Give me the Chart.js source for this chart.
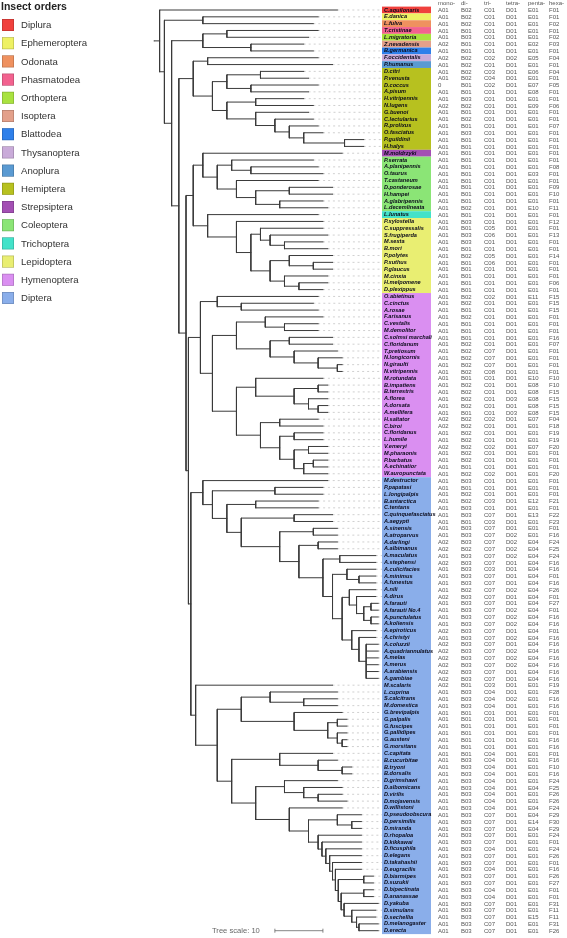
<!DOCTYPE html>
<html>
<head>
<meta charset="utf-8">
<script src="https://cdn.jsdelivr.net/npm/chart.js@4"></script>
<style>
  html, body { margin: 0; padding: 0; background: #fff; }
  #wrap { width: 567px; height: 938px; position: relative; }
</style>
</head>
<body>
<div id="wrap"><canvas id="tree" width="567" height="938"></canvas></div>
<script>
// leaf order, top to bottom
const species = [
  'C.aquilonaris','E.danica','L.fulva','T.cristinae','L.migratoria','Z.nevadensis','B.germanica',
  'F.occidentalis','P.humanus','D.citri','P.venusta','D.coccus','A.pisum','H.vitripennis','N.lugens',
  'G.buenoi','C.lectularius','R.prolixus','O.fasciatus','P.guildinii','H.halys','M.moldrzyki',
  'P.serrata','A.planipennis','O.taurus','T.castaneum','D.ponderosae','H.hampei','A.glabripennis',
  'L.decemlineata','L.lunatus','P.xylostella','C.suppressalis','S.frugiperda','M.sexta','B.mori',
  'P.polytes','P.xuthus','P.glaucus','M.cinxia','H.melpomene','D.plexippus','O.abietinus','C.cinctus',
  'A.rosae','F.arisanus','C.vestalis','M.demolitor','C.solmsi marchali','C.floridanum','T.pretiosum',
  'N.longicornis','N.giraulti','N.vitripennis','M.rotundata','B.impatiens','B.terrestris','A.florea',
  'A.dorsata','A.mellifera','H.saltator','C.biroi','C.floridanus','L.humile','V.emeryi','M.pharaonis',
  'P.barbatus','A.echinatior','W.auropunctata','M.destructor','P.papatasi','L.longipalpis',
  'B.antarctica','C.tentans','C.quinquefasciatus','A.aegypti','A.sinensis','A.atroparvus','A.darlingi',
  'A.albimanus','A.maculatus','A.stephensi','A.culicifacies','A.minimus','A.funestus','A.nili','A.dirus',
  'A.farauti','A.farauti No.4','A.punctulatus','A.koliensis','A.epiroticus','A.christyi','A.coluzzii',
  'A.quadriannulatus','A.melas','A.merus','A.arabiensis','A.gambiae','M.scalaris','L.cuprina',
  'S.calcitrans','M.domestica','G.brevipalpis','G.palpalis','G.fuscipes','G.pallidipes','G.austeni',
  'G.morsitans','C.capitata','B.cucurbitae','B.tryoni','B.dorsalis','D.grimshawi','D.albomicans',
  'D.virilis','D.mojavensis','D.willistoni','D.pseudoobscura','D.persimilis','D.miranda','D.rhopaloa',
  'D.kikkawai','D.ficusphila','D.elegans','D.takahashii','D.eugracilis','D.biarmipes','D.suzukii',
  'D.bipectinata','D.ananassae','D.yakuba','D.simulans','D.sechellia','D.melanogaster','D.erecta'
];

const orderNames = ['Diplura','Ephemeroptera','Odonata','Phasmatodea','Orthoptera','Isoptera','Blattodea',
  'Thysanoptera','Anoplura','Hemiptera','Strepsiptera','Coleoptera','Trichoptera','Lepidoptera',
  'Hymenoptera','Diptera'];
const orderColors = ['#f0413d','#eef163','#ef915f','#f2628f','#a9e23f','#e3a08a','#2f80ea','#c9abd9',
  '#5a9ad2','#b7c11f','#a34fb3','#8be576','#43e2c9','#e9ee72','#da8ff1','#8aaeea'];
// number of consecutive rows in each order
const orderCounts = [1,1,1,1,1,1,1,1,1,12,1,8,1,11,27,67];

const columnHeads = ['mono-','di-','tri-','tetra-','penta-','hexa-'];
const columnPrefix = ['A','B','C','D','E','F'];
const mono = [1,1,1,1,1,2,1,2,1,1,1,0,1,1,2,1,1,1,1,1,1,1,1,1,1,1,1,1,1,1,1,1,1,1,1,1,1,1,1,1,1,1,
  1,1,1,1,1,1,1,1,1,1,1,1,1,1,1,1,1,1,2,2,1,1,2,1,1,1,1,1,1,1,1,1,1,1,1,1,2,2,1,2,1,1,1,1,2,1,1,1,1,
  2,1,2,2,2,2,2,2,2,1,1,1,1,1,1,1,1,1,1,1,1,1,1,1,1,1,1,1,1,1,1,1,1,1,1,1,1,1,1,1,1,1,1,1,1];
const di = [2,2,2,1,3,1,1,2,2,2,2,1,1,3,2,1,2,1,3,1,1,1,1,1,1,1,1,1,1,2,1,3,1,3,3,1,2,1,1,1,1,1,
  2,2,1,2,1,1,1,2,2,2,2,2,1,2,2,2,2,1,2,2,2,2,2,2,2,1,2,3,1,2,2,3,3,1,3,3,3,2,3,3,3,3,3,2,3,3,3,3,3,
  3,3,3,3,3,3,3,3,1,3,3,3,1,1,1,1,1,1,1,3,3,3,3,3,3,3,3,3,3,3,3,3,3,3,3,3,3,3,3,3,3,3,3,3,3];
const tri = [1,1,1,1,1,1,1,2,1,3,4,2,1,1,1,1,1,1,1,1,1,1,1,1,1,1,1,1,1,1,1,1,5,6,1,1,5,6,1,1,1,1,
  2,1,1,1,1,1,1,1,7,7,7,8,1,1,1,1,1,1,2,1,1,1,2,1,1,1,2,1,1,1,3,1,7,3,7,7,7,7,7,7,3,7,7,7,7,7,7,7,7,
  7,7,7,7,7,7,7,7,3,4,4,4,1,1,1,1,1,1,4,4,4,4,4,4,4,4,4,7,7,7,7,7,4,7,7,4,7,7,4,4,7,7,7,7,7];
const tetra = [1,1,1,1,1,1,1,2,1,1,1,1,1,1,1,1,1,1,1,1,1,1,1,1,1,1,1,1,1,1,1,1,1,1,1,1,1,1,1,1,1,1,
  1,1,1,1,1,1,1,1,1,1,1,1,1,1,1,3,1,3,1,1,1,1,1,1,1,1,1,1,1,1,1,1,1,1,1,2,2,2,2,1,1,1,1,2,1,1,2,2,2,
  1,2,1,2,2,2,1,1,1,1,2,1,1,1,1,1,1,1,1,1,1,1,1,1,1,1,1,1,1,1,1,1,1,1,1,1,1,1,1,1,1,1,1,1,1];
const penta = [1,1,1,1,1,2,1,5,1,6,1,7,8,1,9,1,1,1,1,1,1,1,1,1,3,1,1,1,1,10,1,1,1,1,1,1,1,1,1,1,1,1,
  11,1,1,1,1,1,1,1,1,1,1,1,10,8,8,8,8,8,7,1,1,1,7,1,1,1,1,1,1,1,12,1,13,1,1,1,4,4,4,4,4,4,4,4,4,4,4,
  4,4,4,4,4,4,4,4,4,4,1,1,1,1,1,1,1,1,1,1,1,1,1,1,1,4,1,1,4,4,14,4,1,1,1,1,1,1,1,1,1,1,1,1,15,1,1];
const hexa = [1,1,2,1,2,3,1,4,1,4,1,5,1,1,6,1,1,7,1,1,1,1,1,8,1,1,9,10,1,11,1,12,1,13,1,1,14,1,1,1,6,1,
  15,15,15,1,1,1,16,7,1,1,1,1,10,10,15,15,15,15,4,18,19,19,20,1,1,1,20,1,1,1,21,1,22,23,1,16,24,25,24,16,16,
  1,16,26,1,27,1,16,16,1,16,16,16,16,16,16,16,19,28,16,16,1,1,1,1,16,16,1,16,10,16,24,25,26,26,24,29,30,
  29,24,1,24,26,1,16,26,27,1,1,31,11,11,31,26];
const tableCols = [mono, di, tri, tetra, penta, hexa];

// clades: name@depth for tips, (...)@depth for nodes, depth in tree units from the root
const sternorrhyncha = '((D.citri@30,P.venusta@31)@21,(D.coccus@33,A.pisum@31)@19)@14';
const auchenorrhyncha = '(H.vitripennis@30,N.lugens@32)@20';
const heteroptera = '(G.buenoi@31,(C.lectularius@32,(R.prolixus@33,(O.fasciatus@34,(P.guildinii@42.5,H.halys@42.5)@38.5)@30)@27)@24)@20';
const coleoptera = '((P.serrata@32,(A.planipennis@33,O.taurus@34)@19)@15,(T.castaneum@33,((D.ponderosae@36,H.hampei@36)@27,(A.glabripennis@34,L.decemlineata@35)@25)@20)@16)@12';
const lepidoptera = '(P.xylostella@34,((C.suppressalis@34,(S.frugiperda@35,(M.sexta@34,B.mori@35)@26)@23)@21,((P.polytes@36,(P.xuthus@36,P.glaucus@36)@32)@27,(M.cinxia@35,(H.melpomene@35,D.plexippus@34)@29)@26)@23)@19)@16';
const sawflies = '(O.abietinus@33,(C.cinctus@32,A.rosae@33)@17)@12';
const braconids = '(F.arisanus@34,(C.vestalis@33,M.demolitor@33)@26)@22';
const chalcids = '((C.solmsi marchali@36,C.floridanum@36)@27,(T.pretiosum@37,(N.longicornis@38,(N.giraulti@38,N.vitripennis@38)@37)@33)@28)@23';
const bees = '(M.rotundata@34,((B.impatiens@35,B.terrestris@35)@33,(A.florea@35,(A.dorsata@35,A.mellifera@35)@33)@31)@28)@20';
const myrmicines = '((V.emeryi@35,M.pharaonis@35)@31,((P.barbatus@35,A.echinatior@35)@32,W.auropunctata@35)@30)@28';
const ants = `((H.saltator@33,C.biroi@34)@25,((C.floridanus@34,L.humile@34)@28,${myrmicines})@25)@21`;
const hymenoptera = `(${sawflies},((${braconids},${chalcids})@16,(${bees},${ants})@16)@11)@8.5`;
const culicines = '(C.quinquefasciatus@36,A.aegypti@36)@28';
const anophelesSg = '(A.sinensis@37,A.atroparvus@37)@32';
const nyssorhynchus = '(A.darlingi@37,A.albimanus@37)@33';
const gambiaeComplex = '(A.coluzzii@45.5,A.quadriannulatus@45.5,A.melas@45.5,A.merus@45.5,A.arabiensis@45.5,A.gambiae@45.5)@43';
const fárautiGroup = '((A.farauti@45.5,A.farauti No.4@45.5)@44,(A.punctulatus@45.5,A.koliensis@45.5)@44)@42.5';
const cellia = `((A.maculatus@45,A.stephensi@45)@37.5,((A.culicifacies@45,(A.minimus@45,A.funestus@45)@41.5)@39,` +
  `((A.nili@45,(A.dirus@45,${fárautiGroup})@41)@39.5,(A.epiroticus@45,(A.christyi@45,${gambiaeComplex})@41.5)@40)@38)@36)@34`;
const anopheles = `(${anophelesSg},(${nyssorhynchus},${cellia})@29)@25`;
const nematocera = `(M.destructor@35,((P.papatasi@34,L.longipalpis@34)@24,((B.antarctica@33,C.tentans@33)@20,(${culicines},${anopheles})@17)@14)@11)@9`;
const calyptrates = '(L.cuprina@37,(S.calcitrans@37,M.domestica@37)@30)@23';
const tsetse = '(G.brevipalpis@38,((G.palpalis@39,G.fuscipes@39)@37,(G.pallidipes@39,(G.austeni@39,G.morsitans@39)@38)@37)@35)@28';
const tephritids = '(C.capitata@36,(B.cucurbitae@37,(B.tryoni@40,B.dorsalis@40)@38)@33)@25';
const droVirilis = '(D.grimshawi@37,(D.albomicans@38,(D.virilis@38,D.mojavensis@39)@33)@30)@26';
const droObscura = '(D.pseudoobscura@42,(D.persimilis@42,D.miranda@42)@40)@37';
const droMelSub = '(D.yakuba@45.5,(D.simulans@45,(D.sechellia@45,(D.melanogaster@45.5,D.erecta@45.5)@41.5)@41)@40)@38.4';
const droMelGroup = `(D.rhopaloa@42,(D.kikkawai@42,(D.ficusphila@42,(D.elegans@42,(D.takahashii@42,(D.eugracilis@42,` +
  `((D.biarmipes@44.5,D.suzukii@44.5)@42.5,((D.bipectinata@44.5,D.ananassae@44.5)@42.5,${droMelSub})@37.8)@37.2)@36.6)@36)@35.4)@34.6)@33.8)@33`;
const drosophila = `(${droVirilis},(D.willistoni@38,(${droObscura},${droMelGroup})@31)@27)@20`;
const brachycera = `(M.scalaris@36,((${calyptrates},${tsetse})@17,(${tephritids},${drosophila})@15)@12)@7.5`;
const diptera = `(${nematocera},${brachycera})@6.5`;
const treeText = `(C.aquilonaris@37,((E.danica@33,L.fulva@32)@9,(((T.cristinae@33,L.migratoria@31)@14,(Z.nevadensis@30,B.germanica@32)@19)@9,` +
  `(((F.occidentalis@33,P.humanus@36)@10,(${sternorrhyncha},(${auchenorrhyncha},${heteroptera})@14)@11)@7,` +
  `(((M.moldrzyki@38,${coleoptera})@9,(L.lunatus@33,${lepidoptera})@10)@7,(${hymenoptera},${diptera})@6)@5.5)@4)@2.5)@1)@0`;

const LEADER_END = 46.3;

function parseTree(s) {
  let i = 0;
  function node() {
    const n = { name: '', depth: 0, children: [] };
    if (s[i] === '(') {
      i++;
      n.children.push(node());
      while (s[i] === ',') { i++; n.children.push(node()); }
      i++;
    }
    let name = '';
    while (i < s.length && '(),@'.indexOf(s[i]) < 0) name += s[i++];
    n.name = name.trim();
    if (s[i] === '@') {
      i++;
      let num = '';
      while (i < s.length && '(),'.indexOf(s[i]) < 0) num += s[i++];
      n.depth = parseFloat(num);
    }
    return n;
  }
  return node();
}

const root = parseTree(treeText);
const treeSegs = [];
const leaderSegs = [];
const GAP = { x: null, y: null };

function place(n) {
  if (!n.children.length) {
    n.y = species.indexOf(n.name);
    if (n.y < 0) console.warn('missing leaf', n.name);
    return;
  }
  n.children.forEach(place);
  n.y = (n.children[0].y + n.children[n.children.length - 1].y) / 2;
}
place(root);

function collect(n) {
  if (!n.children.length) {
    leaderSegs.push({ x: n.depth, y: n.y }, { x: LEADER_END, y: n.y }, GAP);
    return;
  }
  const first = n.children[0], last = n.children[n.children.length - 1];
  treeSegs.push({ x: n.depth, y: first.y }, { x: n.depth, y: last.y }, GAP);
  n.children.forEach(c => {
    treeSegs.push({ x: n.depth, y: c.y }, { x: c.depth, y: c.y }, GAP);
    collect(c);
  });
}
treeSegs.push({ x: -1.2, y: root.y }, { x: 0, y: root.y }, GAP);
collect(root);

const overlay = {
  id: 'overlay',
  afterDraw(chart) {
    const ctx = chart.ctx;
    const xs = chart.scales.x, ys = chart.scales.y;
    ctx.save();

    // colored label strip
    let row = 0;
    orderCounts.forEach((cnt, k) => {
      const top = ys.getPixelForValue(row - 0.5);
      const bot = ys.getPixelForValue(row + cnt - 0.5);
      ctx.fillStyle = orderColors[k];
      ctx.fillRect(382, top, 49, bot - top);
      row += cnt;
    });

    // leaf labels
    ctx.fillStyle = '#0a0a1a';
    ctx.font = 'italic bold 5.6px "Liberation Sans", Arial, sans-serif';
    ctx.textBaseline = 'middle';
    ctx.textAlign = 'left';
    species.forEach((s, i) => ctx.fillText(s, 384, ys.getPixelForValue(i)));

    // table
    const colX = [438, 461, 484, 506, 528, 549];
    ctx.fillStyle = '#555';
    ctx.font = '6px "Liberation Sans", Arial, sans-serif';
    columnHeads.forEach((h, c) => ctx.fillText(h, colX[c], ys.getPixelForValue(-1)));
    tableCols.forEach((col, c) => {
      col.forEach((v, i) => {
        const txt = v === 0 ? '0' : columnPrefix[c] + String(v).padStart(2, '0');
        ctx.fillText(txt, colX[c], ys.getPixelForValue(i) + 0.5);
      });
    });

    // legend
    ctx.fillStyle = '#222';
    ctx.font = 'bold 10.5px "Liberation Sans", Arial, sans-serif';
    ctx.fillText('Insect orders', 1, 7);
    ctx.font = '9.6px "Liberation Sans", Arial, sans-serif';
    orderNames.forEach((name, k) => {
      const cy = 25 + k * 18.2;
      ctx.fillStyle = orderColors[k];
      ctx.fillRect(2, cy - 6, 12, 12);
      ctx.strokeStyle = 'rgba(0,0,0,0.25)';
      ctx.lineWidth = 0.6;
      ctx.strokeRect(2.3, cy - 5.7, 11.4, 11.4);
      ctx.fillStyle = '#333';
      ctx.fillText(name, 21, cy + 0.5);
    });

    // tree scale
    const sy = ys.getPixelForValue(135);
    ctx.fillStyle = '#666';
    ctx.font = '7.6px "Liberation Sans", Arial, sans-serif';
    ctx.fillText('Tree scale: 10', 212, sy);
    const sx0 = xs.getPixelForValue(24), sx1 = xs.getPixelForValue(34);
    ctx.strokeStyle = '#666';
    ctx.lineWidth = 0.8;
    ctx.beginPath();
    ctx.moveTo(sx0, sy); ctx.lineTo(sx1, sy);
    ctx.moveTo(sx0, sy - 2); ctx.lineTo(sx0, sy + 2);
    ctx.moveTo(sx1, sy - 2); ctx.lineTo(sx1, sy + 2);
    ctx.stroke();
    ctx.restore();
  }
};

new Chart(document.getElementById('tree'), {
  type: 'line',
  data: {
    datasets: [
      {
        data: treeSegs,
        borderColor: '#3a3a3a',
        borderWidth: 1,
        borderCapStyle: 'square',
        pointRadius: 0,
        spanGaps: false,
        tension: 0
      },
      {
        data: leaderSegs,
        borderColor: '#c4c4c4',
        borderWidth: 0.8,
        borderDash: [2, 3],
        pointRadius: 0,
        spanGaps: false,
        tension: 0
      }
    ]
  },
  options: {
    responsive: false,
    animation: false,
    events: [],
    layout: { padding: { left: 150, right: 185, top: 6.6, bottom: 3.9 } },
    scales: {
      x: { type: 'linear', min: -2, max: LEADER_END, display: false },
      y: { type: 'linear', min: -0.5, max: 135.5, reverse: true, display: false }
    },
    plugins: { legend: { display: false }, tooltip: { enabled: false } }
  },
  plugins: [overlay]
});
</script>
</body>
</html>
